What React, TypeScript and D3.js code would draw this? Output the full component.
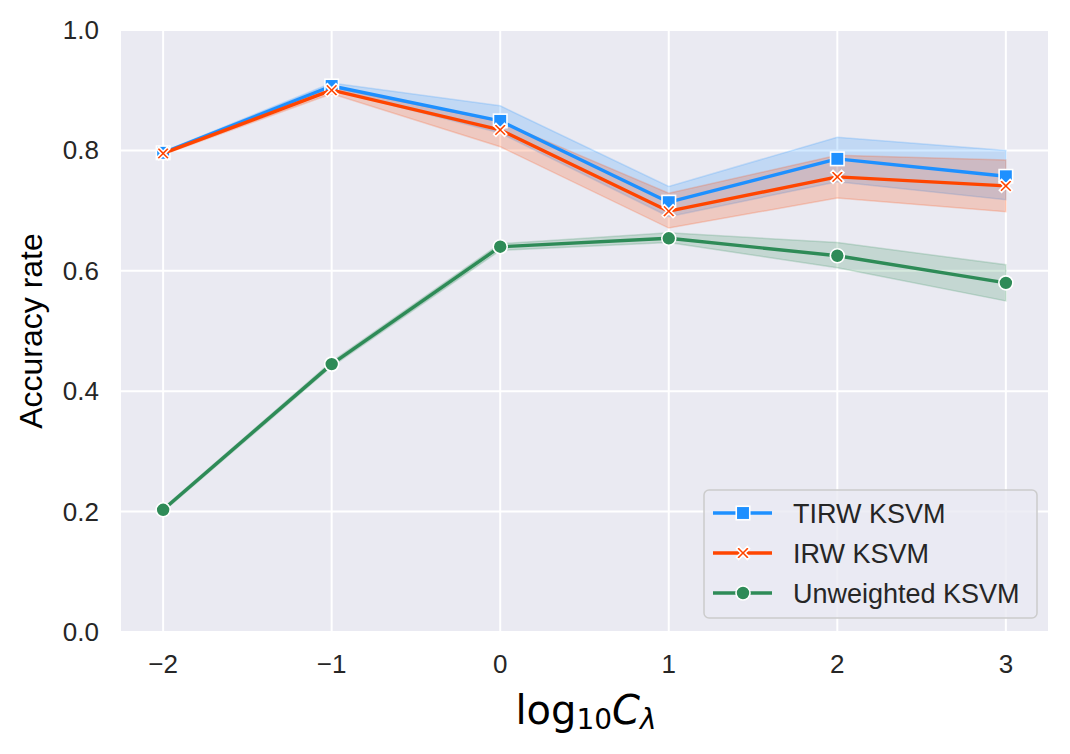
import React from 'react';
import * as d3 from 'd3';

// log10 C_lambda values
const xs = [-2, -1, 0, 1, 2, 3];

const tirwMean = [0.796, 0.907, 0.849, 0.714, 0.786, 0.757];
const tirwLow = [0.794, 0.901, 0.829, 0.690, 0.748, 0.718];
const tirwHigh = [0.798, 0.912, 0.874, 0.740, 0.822, 0.800];

const irwMean = [0.795, 0.900, 0.834, 0.699, 0.756, 0.741];
const irwLow = [0.793, 0.894, 0.806, 0.671, 0.721, 0.698];
const irwHigh = [0.797, 0.905, 0.848, 0.729, 0.792, 0.784];

const unwMean = [0.203, 0.445, 0.640, 0.654, 0.625, 0.580];
const unwLow = [0.200, 0.441, 0.634, 0.647, 0.605, 0.550];
const unwHigh = [0.206, 0.449, 0.645, 0.663, 0.647, 0.610];

const yTicks = [0, 0.2, 0.4, 0.6, 0.8, 1.0];

const labels = ['TIRW KSVM', 'IRW KSVM', 'Unweighted KSVM'];
const colors = ['#1E90FF', '#FF4500', '#2E8B57'];
const shapes = ['square', 'x', 'circle'];

const W = 1070;
const H = 754;
const left = 121;
const right = 1048;
const top = 30;
const bottom = 632;

const font = '"Liberation Sans", Arial, sans-serif';
const mathFont = '"DejaVu Sans", sans-serif';

const xScale = d3.scaleLinear().domain([-2.25, 3.25]).range([left, right]);
const yScale = d3.scaleLinear().domain([0, 1]).range([bottom, top]);

function Marker({ shape, x, y, color }: { shape: string; x: number; y: number; color: string }) {
  if (shape === 'square') {
    const s = 13.5;
    return <rect x={x - s / 2} y={y - s / 2} width={s} height={s} fill={color} stroke="#fff" strokeWidth={1.6} />;
  }
  if (shape === 'circle') {
    return <circle cx={x} cy={y} r={7} fill={color} stroke="#fff" strokeWidth={1.6} />;
  }
  // filled X
  const a = 6.5;
  const t = 2.2;
  const pts = [
    [-a, -a + t], [-a + t, -a], [0, -t], [a - t, -a], [a, -a + t], [t, 0],
    [a, a - t], [a - t, a], [0, t], [-a + t, a], [-a, a - t], [-t, 0],
  ];
  return (
    <polygon
      points={pts.map(([px, py]) => `${x + px},${y + py}`).join(' ')}
      fill={color}
      stroke="#fff"
      strokeWidth={1.6}
    />
  );
}

const App: React.FC = () => {
  const series = [
    { mean: tirwMean, low: tirwLow, high: tirwHigh },
    { mean: irwMean, low: irwLow, high: irwHigh },
    { mean: unwMean, low: unwLow, high: unwHigh },
  ];

  const line = d3.line<number>().x((_, i) => xScale(xs[i])).y(d => yScale(d));
  const area = (lo: number[], hi: number[]) =>
    d3.area<number>()
      .x((_, i) => xScale(xs[i]))
      .y0((_, i) => yScale(lo[i]))
      .y1((_, i) => yScale(hi[i]))(xs) as string;

  const legX = 704;
  const legY = 490;

  return (
    <svg width={W} height={H} style={{ position: 'absolute', left: 0, top: 0, background: '#fff' }}>
      <rect x={left} y={top} width={right - left} height={bottom - top} fill="#EAEAF2" />

      {/* grid */}
      {xs.map(v => (
        <line key={'gx' + v} x1={xScale(v)} x2={xScale(v)} y1={top} y2={bottom} stroke="#fff" strokeWidth={2} />
      ))}
      {yTicks.map(v => (
        <line key={'gy' + v} x1={left} x2={right} y1={yScale(v)} y2={yScale(v)} stroke="#fff" strokeWidth={2} />
      ))}

      {/* confidence bands */}
      {series.map((s, k) => (
        <path
          key={'band' + k}
          d={area(s.low, s.high)}
          fill={colors[k]}
          fillOpacity={0.2}
          stroke={colors[k]}
          strokeOpacity={0.2}
          strokeWidth={1.5}
        />
      ))}

      {/* lines and markers */}
      {series.map((s, k) => (
        <g key={'ser' + k}>
          <path d={line(s.mean) as string} fill="none" stroke={colors[k]} strokeWidth={3.4} strokeLinejoin="round" />
          {s.mean.map((v, i) => (
            <Marker key={i} shape={shapes[k]} x={xScale(xs[i])} y={yScale(v)} color={colors[k]} />
          ))}
        </g>
      ))}

      {/* y ticks */}
      {yTicks.map(v => (
        <text
          key={'ty' + v}
          x={left - 22}
          y={yScale(v) + 9}
          textAnchor="end"
          fontFamily={font}
          fontSize={26}
          fill="#262626"
        >
          {d3.format('.1f')(v)}
        </text>
      ))}

      {/* x ticks */}
      {xs.map(v => (
        <text
          key={'tx' + v}
          x={xScale(v)}
          y={bottom + 41}
          textAnchor="middle"
          fontFamily={font}
          fontSize={26}
          fill="#262626"
        >
          {v < 0 ? '\u2212' + Math.abs(v) : String(v)}
        </text>
      ))}

      {/* axis labels */}
      <text
        transform={`translate(42,${(top + bottom) / 2}) rotate(-90)`}
        textAnchor="middle"
        fontFamily={font}
        fontSize={32}
        fill="#000"
      >
        Accuracy rate
      </text>
      <text x={586} y={724} textAnchor="middle" fontFamily={mathFont} fontSize={40} fill="#000">
        log
        <tspan fontSize={28} dy={5}>10</tspan>
        <tspan dy={-5} fontStyle="italic">C</tspan>
        <tspan fontSize={28} dy={5} fontStyle="italic">λ</tspan>
      </text>

      {/* legend */}
      <rect x={legX} y={legY} width={333} height={128} rx={5} fill="#EAEAF2" fillOpacity={0.8} stroke="#CCCCCC" strokeWidth={1.5} />
      {labels.map((lab, k) => {
        const cy = legY + 23 + k * 40;
        return (
          <g key={'leg' + k}>
            <line x1={legX + 9} x2={legX + 68} y1={cy} y2={cy} stroke={colors[k]} strokeWidth={3.4} />
            <Marker shape={shapes[k]} x={legX + 39} y={cy} color={colors[k]} />
            <text x={legX + 89} y={cy + 10} fontFamily={font} fontSize={27} fill="#262626">
              {lab}
            </text>
          </g>
        );
      })}
    </svg>
  );
};

export default App;
